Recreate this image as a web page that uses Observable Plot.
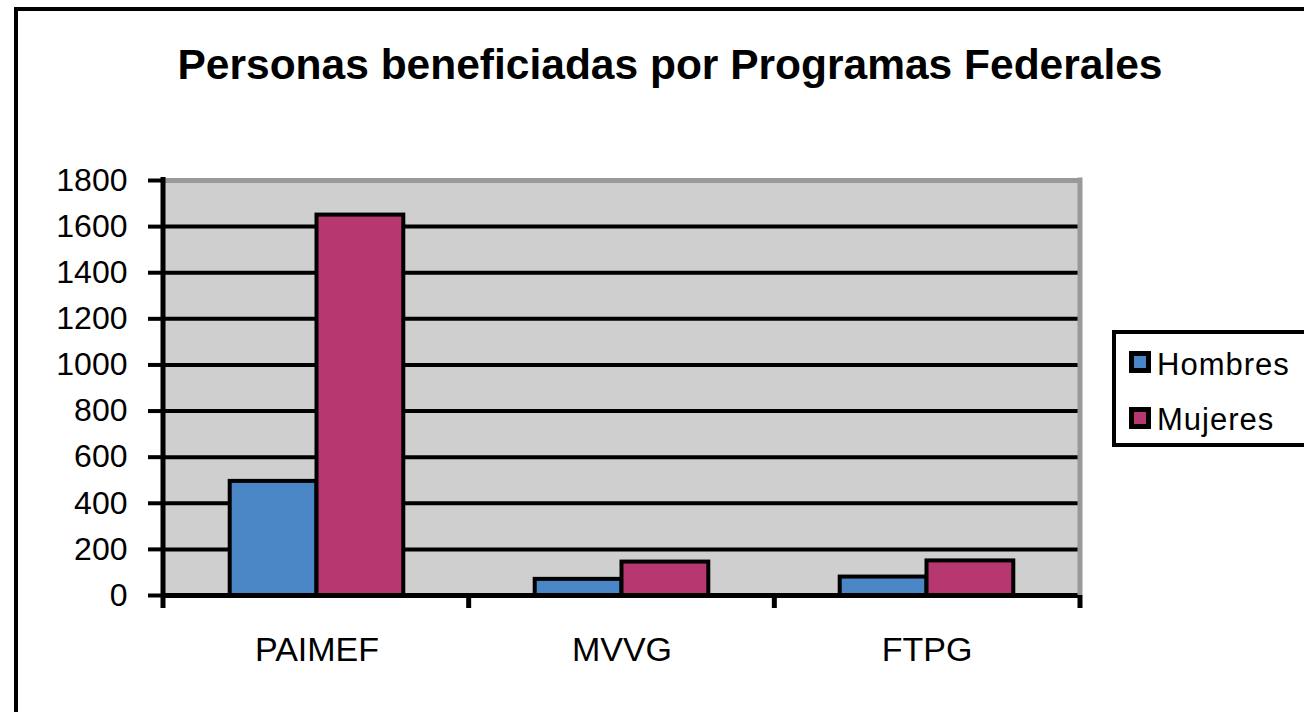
<!DOCTYPE html>
<html>
<head>
<meta charset="utf-8">
<script src="https://cdn.jsdelivr.net/npm/d3@7"></script>
<script src="https://cdn.jsdelivr.net/npm/@observablehq/plot@0.6"></script>
<style>
  html, body { margin: 0; padding: 0; background: #fff; }
  #wrap { position: relative; width: 1304px; height: 712px; overflow: hidden; background: #fff;
          font-family: "Liberation Sans", Arial, sans-serif; }
  #wrap svg { position: absolute; left: 0; top: 0; }
  #border { position: absolute; left: 14px; top: 7px; width: 1400px; height: 800px;
            border-top: 4px solid #000; border-left: 4px solid #000; }
  #title { position: absolute; left: 170px; width: 1000px; top: 44px; text-align: center;
           font-size: 42.5px; line-height: 42px; font-weight: bold; color: #000; white-space: nowrap; }
  #legend { position: absolute; left: 1112px; top: 330px; width: 300px; height: 117px;
            box-sizing: border-box; border: 4px solid #000; background: #fff; }
  .sw { position: absolute; left: 13px; width: 22px; height: 22px; box-sizing: border-box; border: 5px solid #000; }
  .lt { position: absolute; left: 41px; font-size: 31px; line-height: 31px; letter-spacing: 1px; color: #000; white-space: nowrap; }
  #wrap svg g[aria-label^="y-axis"] line, #wrap svg g[aria-label^="y-axis"] path { stroke-width: 4px; stroke: #000; }
  #wrap svg g[aria-label^="fx-axis"], #wrap svg g[aria-label^="fx-axis"] text { font-size: 34px; }
</style>
</head>
<body>
<div id="wrap">
  <div id="border"></div>
  <div id="title">Personas beneficiadas por Programas Federales</div>
  <div id="legend"></div>
</div>
<script>
const programs = ["PAIMEF", "MVVG", "FTPG"];
const series = ["Hombres", "Mujeres"];
const hombres = [495, 70, 80];
const mujeres = [1650, 145, 150];
const yTicks = [0, 200, 400, 600, 800, 1000, 1200, 1400, 1600, 1800];
const colors = ["#4a86c5", "#b73770"];

const rows = [];
programs.forEach((p, i) => {
  rows.push({program: p, sexo: series[0], value: hombres[i]});
  rows.push({program: p, sexo: series[1], value: mujeres[i]});
});
const yMax = yTicks[yTicks.length - 1];
const gridTicks = yTicks.filter(t => t > 0 && t < yMax);

const plot = Plot.plot({
  width: 1304,
  height: 712,
  marginLeft: 163,
  marginRight: 224,
  marginTop: 180,
  marginBottom: 117,
  style: {fontFamily: "'Liberation Sans', Arial, sans-serif", fontSize: "32px", color: "#000", background: "transparent", overflow: "visible"},
  fx: {domain: programs, paddingInner: 0, paddingOuter: 0, label: null, axis: "bottom", tickSize: 0, tickPadding: 41},
  x: {domain: series, paddingInner: 0, paddingOuter: 0.757, round: false, axis: null},
  y: {domain: [0, yMax], ticks: yTicks, tickSize: 16, tickPadding: 21, label: null, tickFormat: d => String(d)},
  color: {domain: series, range: colors},
  marks: [
    Plot.frame({fill: "#cfcfcf", stroke: "#cfcfcf", strokeWidth: 2}),
    Plot.ruleY(gridTicks, {stroke: "#000", strokeWidth: 4}),
    Plot.ruleY([yMax], {stroke: "#999", strokeWidth: 5}),
    Plot.barY(rows, {fx: "program", x: "sexo", y: "value", fill: "sexo", stroke: "#000", strokeWidth: 4}),
    Plot.ruleY([0], {stroke: "#000", strokeWidth: 5})
  ]
});

const wrap = document.getElementById("wrap");
wrap.insertBefore(plot, document.getElementById("title"));

// extra frame lines from the plot's scales
const fxS = plot.scale("fx");
const yS = plot.scale("y");
const yScale = d3.scaleLinear().domain(yS.domain).range(yS.range);
const band = d3.scaleBand().domain(fxS.domain).range(fxS.range).paddingInner(0).paddingOuter(0);
const bounds = fxS.domain.map(d => band(d)).concat([band.range()[1]]);
const svg = d3.select(plot);
const g = svg.append("g");
const y0 = yScale(0), yTop = yScale(yMax);
g.append("line").attr("x1", bounds[bounds.length - 1]).attr("x2", bounds[bounds.length - 1])
  .attr("y1", yTop - 2.5).attr("y2", y0).attr("stroke", "#999").attr("stroke-width", 5);
g.append("line").attr("x1", bounds[0]).attr("x2", bounds[0])
  .attr("y1", yTop - 3).attr("y2", y0 + 13).attr("stroke", "#000").attr("stroke-width", 5);
bounds.slice(1).forEach(x => {
  g.append("line").attr("x1", x).attr("x2", x).attr("y1", y0).attr("y2", y0 + 13)
    .attr("stroke", "#000").attr("stroke-width", 5);
});

// legend
const legend = document.getElementById("legend");
series.forEach((s, i) => {
  const sw = document.createElement("div");
  sw.className = "sw";
  sw.style.top = (17 + i * 56) + "px";
  sw.style.background = colors[i];
  legend.appendChild(sw);
  const t = document.createElement("div");
  t.className = "lt";
  t.style.top = (15 + i * 55) + "px";
  t.textContent = s;
  legend.appendChild(t);
});
</script>
</body>
</html>
